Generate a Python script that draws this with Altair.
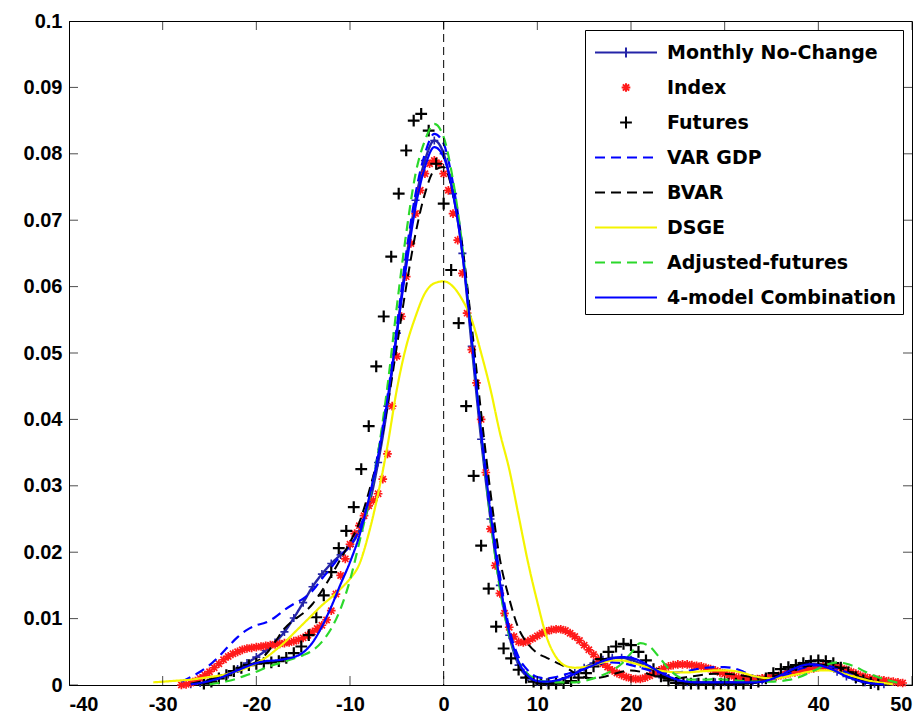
import altair as alt
import pandas as pd

# ---------------- data ----------------
SERIES = ["Monthly No-Change", "Index", "Futures", "VAR GDP", "BVAR",
          "DSGE", "Adjusted-futures", "4-model Combination"]

x_ticks = [-40, -30, -20, -10, 0, 10, 20, 30, 40, 50]
y_ticks = [0, 0.01, 0.02, 0.03, 0.04, 0.05, 0.06, 0.07, 0.08, 0.09, 0.1]

# Monthly No-Change, x = -27 .. 47 (step 1)
mnc_x0 = -27
mnc_y = [0.0001, 0.0003, 0.0006, 0.001, 0.0016, 0.0024, 0.0033, 0.0042, 0.0052, 0.0064,
         0.008, 0.0101, 0.0124, 0.0148, 0.0167, 0.0183, 0.0196, 0.0209, 0.0232, 0.027,
         0.0335, 0.042, 0.053, 0.064, 0.073, 0.079, 0.082, 0.080, 0.074, 0.065,
         0.051, 0.037, 0.025, 0.015, 0.0075, 0.003, 0.0012, 0.0005, 0.0004, 0.0006,
         0.0011, 0.0018, 0.0026, 0.0033, 0.0038, 0.0041, 0.0041, 0.0038, 0.0032, 0.0024,
         0.0016, 0.001, 0.0006, 0.0004, 0.0004, 0.0004, 0.0004, 0.0004, 0.0004, 0.0004,
         0.0005, 0.0007, 0.0011, 0.0017, 0.0024, 0.0029, 0.0032, 0.0031, 0.0027, 0.002,
         0.0013, 0.0008, 0.0004, 0.0002, 0.0001]

# Index, x = -28 .. 49 (step 0.5)
idx_x0 = -28
idx_y = [0.0, 0.0001, 0.0003, 0.0006, 0.001, 0.0015, 0.002, 0.0026, 0.0032, 0.0038,
         0.0043, 0.0047, 0.005, 0.0053, 0.0055, 0.0056, 0.0057, 0.0058, 0.0059, 0.006,
         0.0061, 0.0062, 0.0063, 0.0064, 0.0066, 0.0068, 0.0071, 0.0075, 0.008, 0.0085,
         0.009, 0.0098, 0.0112, 0.0137, 0.0165, 0.019, 0.0212, 0.0228, 0.024, 0.0255,
         0.027, 0.0278, 0.0288, 0.031, 0.0348, 0.042, 0.0495, 0.0555, 0.0615, 0.0665,
         0.071, 0.0745, 0.077, 0.0785, 0.079, 0.0785, 0.077, 0.0745, 0.071, 0.067,
         0.062, 0.056, 0.0505, 0.0455, 0.040, 0.032, 0.0235, 0.018, 0.0138, 0.0108,
         0.0087, 0.0073, 0.0065, 0.0064, 0.0066, 0.007, 0.0074, 0.0078, 0.0081, 0.0083,
         0.0084, 0.0084, 0.0082, 0.0078, 0.0073, 0.0067, 0.006, 0.0053, 0.0046, 0.0039,
         0.0032, 0.0027, 0.0022, 0.0018, 0.0015, 0.0012, 0.001, 0.0009, 0.0009, 0.0011,
         0.0014, 0.0018, 0.0022, 0.0025, 0.0028, 0.003, 0.0031, 0.0031, 0.0031, 0.003,
         0.0029, 0.0028, 0.0026, 0.0024, 0.0022, 0.0019, 0.0017, 0.0015, 0.0013, 0.0011,
         0.001, 0.0009, 0.0009, 0.0009, 0.001, 0.0011, 0.0012, 0.0013, 0.0015, 0.0016,
         0.0018, 0.0019, 0.0021, 0.0022, 0.0024, 0.0025, 0.0027, 0.0028, 0.0028, 0.0028,
         0.0027, 0.0025, 0.0023, 0.002, 0.0017, 0.0014, 0.0012, 0.001, 0.0009, 0.0008,
         0.0007, 0.0006, 0.0005, 0.0004, 0.0003]

# Futures, x = -25.6 .. 46.4 (step 0.8)
fut_x0 = -25.6
fut_y = [0.0002, 0.0005, 0.001, 0.0015, 0.0021, 0.0026, 0.003, 0.0032, 0.0033, 0.0034,
         0.0036, 0.0041, 0.0048, 0.0058, 0.0075, 0.0102, 0.0135, 0.017, 0.0206, 0.0232,
         0.0268, 0.0325, 0.039, 0.048, 0.0555, 0.0645, 0.074, 0.0805, 0.085, 0.086,
         0.0835, 0.0785, 0.0725, 0.0625, 0.0545, 0.042, 0.0315, 0.021, 0.0145, 0.0088,
         0.0055, 0.004, 0.0023, 0.0011, 0.0005, 0.0002, 0.0002, 0.0002, 0.0003, 0.0006,
         0.0011, 0.0018, 0.0028, 0.0039, 0.005, 0.0058, 0.0062, 0.006, 0.005, 0.0037,
         0.0024, 0.0013, 0.0007, 0.0003, 0.0002, 0.0002, 0.0002, 0.0002, 0.0002, 0.0002,
         0.0002, 0.0002, 0.0002, 0.0003, 0.0005, 0.001, 0.0018, 0.0024, 0.0027, 0.003,
         0.0033, 0.0036, 0.0037, 0.0036, 0.0033, 0.0026, 0.0019, 0.0012, 0.0007, 0.0003,
         0.0001]

# VAR GDP, x = -28 .. 48
var_x0 = -28
var_y = [0.0005, 0.0012, 0.002, 0.003, 0.0043, 0.0058, 0.0072, 0.0083, 0.009, 0.0094,
         0.0102, 0.0113, 0.0122, 0.013, 0.0142, 0.016, 0.0177, 0.0195, 0.021, 0.0235,
         0.028, 0.035, 0.0435, 0.054, 0.065, 0.074, 0.080, 0.083, 0.0815, 0.0755,
         0.066, 0.053, 0.039, 0.027, 0.0165, 0.0085, 0.0042, 0.0022, 0.0012, 0.001,
         0.0012, 0.0016, 0.002, 0.0025, 0.003, 0.0033, 0.0034, 0.0033, 0.003, 0.0026,
         0.0022, 0.0019, 0.0018, 0.0019, 0.0021, 0.0024, 0.0026, 0.0027, 0.0027, 0.0025,
         0.002, 0.0014, 0.001, 0.0009, 0.0012, 0.0018, 0.0024, 0.0028, 0.003, 0.0029,
         0.0025, 0.0019, 0.0013, 0.0008, 0.0004, 0.0002, 0.0001]

# BVAR, x = -27 .. 48
bvar_x0 = -27
bvar_y = [0.0002, 0.0005, 0.0008, 0.0012, 0.0017, 0.0022, 0.0028, 0.0035, 0.0046, 0.0065,
          0.0085, 0.0098, 0.0108, 0.0122, 0.0142, 0.0165, 0.019, 0.0215, 0.0245, 0.029,
          0.0345, 0.042, 0.051, 0.060, 0.068, 0.074, 0.0775, 0.078, 0.074, 0.066,
          0.054, 0.041, 0.029, 0.019, 0.013, 0.0085, 0.0062, 0.0048, 0.0041, 0.0034,
          0.0027, 0.0018, 0.0012, 0.001, 0.0012, 0.0016, 0.002, 0.0022, 0.002, 0.0016,
          0.0012, 0.001, 0.001, 0.0012, 0.0014, 0.0016, 0.0017, 0.0017, 0.0016, 0.0014,
          0.0012, 0.0011, 0.0012, 0.0016, 0.0021, 0.0026, 0.0029, 0.0031, 0.003, 0.0027,
          0.0022, 0.0016, 0.001, 0.0006, 0.0003, 0.0001]

# DSGE, x = -31 .. 48
dsge_x0 = -31
dsge_y = [0.0004, 0.0005, 0.0006, 0.0007, 0.0008, 0.001, 0.0012, 0.0014, 0.0017, 0.0021,
          0.0026, 0.0033, 0.0041, 0.0052, 0.0064, 0.0078, 0.0092, 0.0106, 0.012, 0.0132,
          0.0145, 0.016, 0.0182, 0.0228, 0.0288, 0.036, 0.0445, 0.051, 0.0555, 0.059,
          0.0605, 0.0608, 0.060, 0.058, 0.055, 0.050, 0.0445, 0.038, 0.0325, 0.0255,
          0.0185, 0.0125, 0.0072, 0.0042, 0.0029, 0.0026, 0.0027, 0.003, 0.0034, 0.0037,
          0.0037, 0.0034, 0.003, 0.0026, 0.0022, 0.002, 0.0019, 0.0019, 0.002, 0.0021,
          0.0022, 0.0022, 0.0021, 0.0018, 0.0014, 0.0011, 0.001, 0.0011, 0.0014, 0.0017,
          0.002, 0.0022, 0.0022, 0.002, 0.0016, 0.0012, 0.0008, 0.0005, 0.0003, 0.0001]

# Adjusted-futures, x = -25 .. 49
adj_x0 = -25
adj_y = [0.0001, 0.0003, 0.0006, 0.001, 0.0015, 0.002, 0.0026, 0.0031, 0.0035, 0.004,
         0.0045, 0.0052, 0.0065, 0.0085, 0.0115, 0.0158, 0.0215, 0.0275, 0.035, 0.045,
         0.057, 0.068, 0.077, 0.082, 0.0845, 0.0825, 0.076, 0.066, 0.052, 0.038,
         0.025, 0.0145, 0.0075, 0.0035, 0.0016, 0.0008, 0.0005, 0.0004, 0.0004, 0.0004,
         0.0006, 0.001, 0.0015, 0.0022, 0.0032, 0.0048, 0.0063, 0.0058, 0.0042, 0.0025,
         0.0013, 0.0008, 0.0008, 0.0008, 0.0009, 0.0008, 0.0007, 0.0006, 0.0005, 0.0005,
         0.0005, 0.0006, 0.0008, 0.0012, 0.0018, 0.0025, 0.0031, 0.0034, 0.0032, 0.0027,
         0.002, 0.0014, 0.0009, 0.0005, 0.0002]

# 4-model Combination, x = -27 .. 47
comb_x0 = -27
comb_y = [0.0001, 0.0003, 0.0006, 0.001, 0.0016, 0.0022, 0.0028, 0.0033, 0.0036, 0.0037,
          0.0039, 0.0042, 0.0049, 0.0064, 0.0088, 0.0118, 0.0152, 0.0185, 0.0225, 0.028,
          0.0345, 0.043, 0.053, 0.063, 0.072, 0.078, 0.081, 0.0795, 0.074, 0.065,
          0.052, 0.038, 0.026, 0.0155, 0.008, 0.0035, 0.0014, 0.0006, 0.0005, 0.0007,
          0.0011, 0.0017, 0.0024, 0.003, 0.0036, 0.004, 0.0042, 0.0041, 0.0036, 0.0028,
          0.002, 0.0013, 0.0008, 0.0005, 0.0004, 0.0004, 0.0004, 0.0004, 0.0004, 0.0004,
          0.0004, 0.0005, 0.0009, 0.0015, 0.0022, 0.0028, 0.0031, 0.003, 0.0026, 0.002,
          0.0013, 0.0008, 0.0004, 0.0002, 0.0001]

# ---------------- styles ----------------
COLORS = ["#2424a8", "#ff1a1a", "#000000", "#0000ff", "#000000",
          "#f4f400", "#2bd82b", "#0000ff"]
DASHES = [[1, 0], [1, 0], [1, 0], [10, 6], [10, 6], [1, 0], [10, 6], [1, 0]]
LINE = "M-2,0L2,0"
LINE_PLUS = "M-2,0L2,0M0,-0.32L0,0.32"
STAR = "M-0.28,0L0.28,0M0,-0.28L0,0.28M-0.2,-0.2L0.2,0.2M-0.2,0.2L0.2,-0.2"
PLUS = "M-0.38,0L0.38,0M0,-0.38L0,0.38"
SMALL_PLUS = "M-0.26,0L0.26,0M0,-0.26L0,0.26"
SHAPES = [LINE_PLUS, STAR, PLUS, LINE, LINE, LINE, LINE, LINE]
SYM = 961


def frame(name, x0, step, ys):
    return pd.DataFrame({"x": [round(x0 + step * i, 2) for i in range(len(ys))],
                         "y": ys, "series": name})


d_mnc = frame(SERIES[0], mnc_x0, 1, mnc_y)
d_idx = frame(SERIES[1], idx_x0, 0.5, idx_y)
d_fut = frame(SERIES[2], fut_x0, 0.8, fut_y)
d_var = frame(SERIES[3], var_x0, 1, var_y)
d_bvar = frame(SERIES[4], bvar_x0, 1, bvar_y)
d_dsge = frame(SERIES[5], dsge_x0, 1, dsge_y)
d_adj = frame(SERIES[6], adj_x0, 1, adj_y)
d_comb = frame(SERIES[7], comb_x0, 1, comb_y)

AX = dict(labelFont="Liberation Sans", labelFontSize=20, labelFontWeight="bold",
          labelColor="black", ticks=False, grid=False, domainColor="black",
          labelExpr="toString(datum.value)")
X = alt.X("x:Q", title=None,
          scale=alt.Scale(domain=[-40, 50], nice=False, zero=False),
          axis=alt.Axis(values=x_ticks, labelPadding=9, **AX))
Y = alt.Y("y:Q", title=None,
          scale=alt.Scale(domain=[0, 0.1], nice=False, zero=False),
          axis=alt.Axis(values=y_ticks, labelPadding=7, **AX))

LEG = alt.Legend(title=None, orient="top-right", offset=9, padding=6,
                 strokeColor="black", fillColor="white", cornerRadius=0,
                 labelFont="DejaVu Sans", labelFontSize=19, labelFontWeight="bold",
                 labelColor="black", labelLimit=400, labelOffset=24.5,
                 symbolOffset=18.5, symbolSize=SYM, symbolStrokeWidth=2,
                 rowPadding=8)
COLOR = alt.Color("series:N", scale=alt.Scale(domain=SERIES, range=COLORS), legend=LEG)
DASH = alt.StrokeDash("series:N", scale=alt.Scale(domain=SERIES, range=DASHES), legend=LEG)
SHAPE = alt.Shape("series:N", scale=alt.Scale(domain=SERIES, range=SHAPES), legend=LEG)


def line(df, width=2.0):
    return alt.Chart(df).mark_line(strokeWidth=width, interpolate="monotone").encode(
        x=X, y=Y, color=COLOR, strokeDash=DASH)


def points(df, width, shape_fixed=None):
    if shape_fixed is None:
        return alt.Chart(df).mark_point(filled=False, size=SYM, strokeWidth=width,
                                        opacity=1).encode(x=X, y=Y, color=COLOR, shape=SHAPE)
    return alt.Chart(df).mark_point(filled=False, size=SYM, strokeWidth=width, opacity=1,
                                    shape=shape_fixed).encode(x=X, y=Y, color=COLOR)


zero_line = alt.Chart(pd.DataFrame({"x": [0]})).mark_rule(
    color="black", strokeDash=[8, 5], strokeWidth=1).encode(x=X)

tx = pd.DataFrame({"x": x_ticks})
ty = pd.DataFrame({"y": y_ticks})
tick_b = alt.Chart(tx).mark_tick(orient="vertical", size=18, thickness=1, color="black",
                                 clip=True).encode(x=X, y=alt.datum(0))
tick_t = alt.Chart(tx).mark_tick(orient="vertical", size=18, thickness=1, color="black",
                                 clip=True).encode(x=X, y=alt.datum(0.1))
tick_l = alt.Chart(ty).mark_tick(orient="horizontal", size=18, thickness=1, color="black",
                                 clip=True).encode(y=Y, x=alt.datum(-40))
tick_r = alt.Chart(ty).mark_tick(orient="horizontal", size=18, thickness=1, color="black",
                                 clip=True).encode(y=Y, x=alt.datum(50))

chart = alt.layer(
    line(d_mnc, 2.4),
    points(d_mnc, 1.6, SMALL_PLUS),
    points(d_idx, 1.7),
    points(d_fut, 2.2),
    line(d_var, 2.2),
    line(d_bvar, 2.0),
    line(d_dsge, 2.2),
    line(d_adj, 2.2),
    line(d_comb, 2.2),
    zero_line,
    tick_b, tick_t, tick_l, tick_r,
).properties(
    width=843, height=664,
    autosize=alt.AutoSizeParams(type="none"),
    padding={"left": 61, "top": 13, "right": 4, "bottom": 32},
    background="white",
).configure_view(stroke="black", strokeWidth=1)

chart.save("out.html", embed_options={"renderer": "svg", "actions": False})
